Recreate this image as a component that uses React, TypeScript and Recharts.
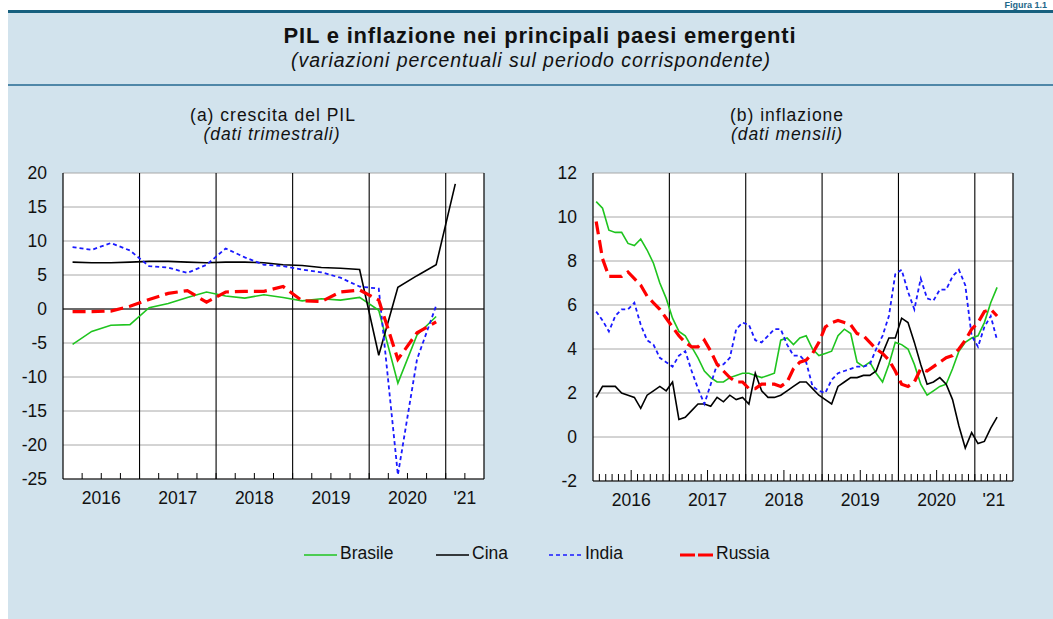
import React from 'react'
import { LineChart, Line, XAxis, YAxis, CartesianGrid, ReferenceLine } from 'recharts'

// ---- categories ----
const quarters = [
  '2016 T1', '2016 T2', '2016 T3', '2016 T4',
  '2017 T1', '2017 T2', '2017 T3', '2017 T4',
  '2018 T1', '2018 T2', '2018 T3', '2018 T4',
  '2019 T1', '2019 T2', '2019 T3', '2019 T4',
  '2020 T1', '2020 T2', '2020 T3', '2020 T4',
  '2021 T1', '2021 T2',
]
const years = ['2016', '2017', '2018', '2019', '2020', '2021']
const yearLabels = ['2016', '2017', '2018', '2019', '2020', "'21"]
const monthNames = ['gen', 'feb', 'mar', 'apr', 'mag', 'giu', 'lug', 'ago', 'set', 'ott', 'nov', 'dic']
const months = years.flatMap((y) => monthNames.map((m) => `${m} ${y}`)).slice(0, 66)

// ---- (a) PIL, dati trimestrali ----
const gdpBrasile = [-5.2, -3.3, -2.4, -2.3, 0.2, 0.8, 1.7, 2.5, 1.9, 1.6, 2.1, 1.7, 1.2, 1.5, 1.3, 1.7, -0.2, -10.9, -3.8, -1.1]
const gdpCina = [6.9, 6.8, 6.8, 6.9, 7.0, 7.0, 6.9, 6.8, 6.9, 6.9, 6.8, 6.5, 6.4, 6.1, 6.0, 5.8, -6.8, 3.2, 4.9, 6.5, 18.4]
const gdpIndia = [9.1, 8.7, 9.7, 8.6, 6.3, 6.1, 5.3, 6.5, 8.9, 7.6, 6.5, 6.3, 5.8, 5.4, 4.6, 3.3, 3.0, -24.4, -7.4, 0.5]
const gdpRussia = [-0.4, -0.4, -0.3, 0.4, 1.4, 2.3, 2.7, 1.0, 2.5, 2.6, 2.6, 3.3, 1.2, 1.1, 2.5, 2.8, 1.3, -7.4, -3.5, -1.9]

// ---- (b) inflazione, dati mensili ----
const cpiBrasile = [
  10.7, 10.4, 9.4, 9.3, 9.3, 8.8, 8.7, 9.0, 8.5, 7.9, 7.0, 6.3,
  5.4, 4.8, 4.6, 4.1, 3.6, 3.0, 2.7, 2.5, 2.5, 2.7, 2.8, 2.9,
  2.9, 2.8, 2.7, 2.8, 2.9, 4.4, 4.5, 4.2, 4.5, 4.6, 4.0, 3.7,
  3.8, 3.9, 4.6, 4.9, 4.7, 3.4, 3.2, 3.4, 2.9, 2.5, 3.3, 4.3,
  4.2, 4.0, 3.3, 2.4, 1.9, 2.1, 2.3, 2.4, 3.1, 3.9, 4.3, 4.5,
  4.6, 5.2, 6.1, 6.8,
]
const cpiCina = [
  1.8, 2.3, 2.3, 2.3, 2.0, 1.9, 1.8, 1.3, 1.9, 2.1, 2.3, 2.1,
  2.5, 0.8, 0.9, 1.2, 1.5, 1.5, 1.4, 1.8, 1.6, 1.9, 1.7, 1.8,
  1.5, 2.9, 2.1, 1.8, 1.8, 1.9, 2.1, 2.3, 2.5, 2.5, 2.2, 1.9,
  1.7, 1.5, 2.3, 2.5, 2.7, 2.7, 2.8, 2.8, 3.0, 3.8, 4.5, 4.5,
  5.4, 5.2, 4.3, 3.3, 2.4, 2.5, 2.7, 2.4, 1.7, 0.5, -0.5, 0.2,
  -0.3, -0.2, 0.4, 0.9,
]
const cpiIndia = [
  5.7, 5.3, 4.8, 5.5, 5.8, 5.8, 6.1, 5.1, 4.4, 4.2, 3.6, 3.4,
  3.2, 3.7, 3.9, 3.0, 2.2, 1.5, 2.4, 3.3, 3.3, 3.6, 4.9, 5.2,
  5.1, 4.4, 4.3, 4.6, 4.9, 4.9, 4.2, 3.7, 3.7, 3.4, 2.3, 2.1,
  2.0, 2.6, 2.9, 3.0, 3.1, 3.2, 3.2, 3.3, 4.0, 4.6, 5.5, 7.4,
  7.6, 6.6, 5.8, 7.2, 6.3, 6.2, 6.7, 6.7, 7.3, 7.6, 6.9, 4.6,
  4.1, 5.0, 5.5, 4.4,
]
const cpiRussia = [
  9.8, 8.1, 7.3, 7.3, 7.3, 7.5, 7.2, 6.9, 6.4, 6.1, 5.8, 5.4,
  5.0, 4.6, 4.3, 4.1, 4.1, 4.4, 3.9, 3.3, 3.0, 2.7, 2.5, 2.5,
  2.2, 2.2, 2.4, 2.4, 2.4, 2.3, 2.5, 3.1, 3.4, 3.5, 3.8, 4.3,
  5.0, 5.2, 5.3, 5.2, 5.1, 4.7, 4.6, 4.3, 4.0, 3.8, 3.5, 3.0,
  2.4, 2.3, 2.5, 3.1, 3.0, 3.2, 3.4, 3.6, 3.7, 4.0, 4.4, 4.9,
  5.2, 5.7, 5.8, 5.5,
]

const gdpTicks = [-25, -20, -15, -10, -5, 0, 5, 10, 15, 20]
const cpiTicks = [-2, 0, 2, 4, 6, 8, 10, 12]

const FONT = "'Liberation Sans', Arial, Helvetica, sans-serif"
const TEXT = '#111'
const C_BRASILE = '#1fc41f'
const C_CINA = '#000000'
const C_INDIA = '#1a1aff'
const C_RUSSIA = '#ff0000'

const series = [
  { key: 'brasile', name: 'Brasile', color: C_BRASILE, width: 1.6, dash: undefined as string | undefined },
  { key: 'cina', name: 'Cina', color: C_CINA, width: 1.6, dash: undefined as string | undefined },
  { key: 'india', name: 'India', color: C_INDIA, width: 1.8, dash: '4 3' },
  { key: 'russia', name: 'Russia', color: C_RUSSIA, width: 3.2, dash: '13 6' },
]

const yearOf = (label: string) => (label.match(/\d{4}/) || [''])[0]

function buildRows(cats: string[], cols: Record<string, number[]>) {
  return cats.map((c, i) => {
    const row: Record<string, any> = { cat: c, x: i + 0.5 }
    Object.keys(cols).forEach((k) => {
      row[k] = cols[k][i] ?? null
    })
    return row
  })
}

// year boundaries, year centres and label map from the category list
function axisInfo(cats: string[]) {
  const bounds: number[] = []
  const labels = new Map<number, string>()
  years.forEach((y, yi) => {
    const idx = cats.map((c, i) => (yearOf(c) === y ? i : -1)).filter((i) => i >= 0)
    if (!idx.length) return
    labels.set((idx[0] + idx[idx.length - 1] + 1) / 2, yearLabels[yi])
    if (idx[0] > 0) bounds.push(idx[0])
  })
  const ticks = cats.map((_, i) => i).concat(cats.length)
  return { bounds, labels, ticks }
}

function makeXTick(labels: Map<number, string>, max: number, len: (v: number) => number) {
  return (props: any) => {
    const { x, y, payload } = props
    const v = payload.value
    return (
      <g>
        {v > 0 && v < max && <line x1={x} y1={y} x2={x} y2={y - len(v)} stroke="#000" strokeWidth={1} />}
        {labels.has(v) && (
          <text x={x} y={y + 19} dy="0.36em" textAnchor="middle" fontSize={17.5} fill={TEXT}>
            {labels.get(v)}
          </text>
        )}
      </g>
    )
  }
}

const yTick = (props: any) => (
  <text x={props.x} y={props.y} dy="0.36em" textAnchor="end" fontSize={17.5} fill={TEXT}>
    {props.payload.value}
  </text>
)

interface PanelProps {
  rows: any[]
  cats: string[]
  domain: [number, number]
  ticks: number[]
  width: number
  height: number
  margin: { top: number; right: number; bottom: number; left: number }
  leftW: number
  rightW: number
  rightMargin: number
  tickLen: (v: number) => number
  zeroBlack?: boolean
}

function Panel({ rows, cats, domain, ticks, width, height, margin, leftW, rightW, rightMargin, tickLen, zeroBlack }: PanelProps) {
  const { bounds, labels, ticks: xTicks } = axisInfo(cats)
  const max = cats.length
  return (
    <LineChart width={width} height={height} data={rows} margin={margin}>
      <CartesianGrid vertical={false} stroke="#a8a8a8" strokeWidth={1} fill="#ffffff" />
      <XAxis
        dataKey="x"
        type="number"
        domain={[0, max]}
        ticks={xTicks}
        interval={0}
        tickLine={false}
        tickSize={0}
        tickMargin={0}
        height={30}
        axisLine={{ stroke: '#000', strokeWidth: 1.2 }}
        tick={makeXTick(labels, max, tickLen)}
      />
      <XAxis
        xAxisId="top"
        orientation="top"
        type="number"
        domain={[0, max]}
        height={0}
        tick={false}
        tickLine={false}
        axisLine={{ stroke: '#000', strokeWidth: 1.2 }}
      />
      <YAxis
        type="number"
        domain={domain}
        ticks={ticks}
        interval={0}
        width={leftW}
        tickLine={false}
        tickSize={0}
        tickMargin={16}
        axisLine={{ stroke: '#000', strokeWidth: 1.2 }}
        tick={yTick}
      />
      <YAxis
        yAxisId="r"
        orientation="right"
        type="number"
        domain={domain}
        ticks={ticks}
        interval={0}
        width={rightW}
        tickLine={false}
        tickSize={0}
        tickMargin={rightMargin}
        axisLine={{ stroke: '#000', strokeWidth: 1.2 }}
        tick={yTick}
      />
      {zeroBlack && <ReferenceLine y={0} stroke="#000" strokeWidth={1.2} />}
      {bounds.map((b) => (
        <ReferenceLine key={b} x={b} stroke="#000" strokeWidth={1.1} />
      ))}
      {series.map((s) => (
        <Line
          key={s.key}
          type="linear"
          dataKey={s.key}
          stroke={s.color}
          strokeWidth={s.width}
          strokeDasharray={s.dash}
          dot={false}
          activeDot={false}
          isAnimationActive={false}
        />
      ))}
    </LineChart>
  )
}

function LegendItem({ s, left }: { s: (typeof series)[number]; left: number }) {
  return (
    <div style={{ position: 'absolute', left, top: 545, display: 'flex', alignItems: 'center', whiteSpace: 'nowrap' }}>
      <svg width={33} height={8} style={{ display: 'block', marginRight: 3, marginTop: 3 }}>
        <line x1={0} y1={4} x2={33} y2={4} stroke={s.color} strokeWidth={s.key === 'russia' ? 3 : 1.6} strokeDasharray={s.key === 'russia' ? '15 3' : s.dash} />
      </svg>
      <span style={{ fontSize: 17.5, lineHeight: '17.5px', color: TEXT }}>{s.name}</span>
    </div>
  )
}

export default function App() {
  const gdpRows = buildRows(quarters, { brasile: gdpBrasile, cina: gdpCina, india: gdpIndia, russia: gdpRussia })
  const cpiRows = buildRows(months, { brasile: cpiBrasile, cina: cpiCina, india: cpiIndia, russia: cpiRussia })
  const center = (x: number): React.CSSProperties => ({
    position: 'absolute',
    left: x,
    transform: 'translateX(-50%)',
    whiteSpace: 'nowrap',
    color: TEXT,
  })
  return (
    <div style={{ position: 'absolute', left: 0, top: 0, width: 1053, height: 619, overflow: 'hidden', background: '#fff', fontFamily: FONT }}>
      <div style={{ position: 'absolute', right: 6, top: 1, fontSize: 9, lineHeight: '9px', fontWeight: 'bold', color: '#1d6689', whiteSpace: 'nowrap' }}>
        Figura 1.1
      </div>
      <div style={{ position: 'absolute', left: 8, top: 10, right: 0, bottom: 0, background: '#d2e3ed' }} />
      <div style={{ position: 'absolute', left: 8, top: 10, right: 0, height: 3, background: '#17607f' }} />
      <div style={{ position: 'absolute', left: 8, top: 84, right: 0, height: 2, background: '#4f87a8' }} />

      <div style={{ ...center(540), top: 24.5, fontSize: 22, lineHeight: '22px', fontWeight: 'bold', letterSpacing: 0.8 }}>
        PIL e inflazione nei principali paesi emergenti
      </div>
      <div style={{ ...center(531), top: 50.5, fontSize: 19.5, lineHeight: '19.5px', fontStyle: 'italic', letterSpacing: 0.95 }}>
        (variazioni percentuali sul periodo corrispondente)
      </div>

      <div style={{ ...center(273), top: 107, fontSize: 17.5, lineHeight: '17.5px', letterSpacing: 1 }}>(a) crescita del PIL</div>
      <div style={{ ...center(272), top: 125.5, fontSize: 17.5, lineHeight: '17.5px', fontStyle: 'italic', letterSpacing: 0.9 }}>
        (dati trimestrali)
      </div>
      <div style={{ ...center(787), top: 107, fontSize: 17.5, lineHeight: '17.5px', letterSpacing: 1 }}>(b) inflazione</div>
      <div style={{ ...center(787), top: 125.5, fontSize: 17.5, lineHeight: '17.5px', fontStyle: 'italic', letterSpacing: 0.9 }}>
        (dati mensili)
      </div>

      <div style={{ position: 'absolute', left: 13, top: 160 }}>
        <Panel
          rows={gdpRows}
          cats={quarters}
          domain={[-25, 20]}
          ticks={gdpTicks}
          width={520}
          height={360}
          margin={{ top: 13, right: 0, bottom: 11, left: 0 }}
          leftW={50}
          rightW={49}
          rightMargin={41}
          tickLen={() => 6}
          zeroBlack
        />
      </div>
      <div style={{ position: 'absolute', left: 540, top: 160 }}>
        <Panel
          rows={cpiRows}
          cats={months}
          domain={[-2, 12]}
          ticks={cpiTicks}
          width={513}
          height={360}
          margin={{ top: 13, right: 0, bottom: 9, left: 0 }}
          leftW={53}
          rightW={40}
          rightMargin={35}
          tickLen={(v) => (v % 12 === 6 ? 11 : 7)}
        />
      </div>

      <LegendItem s={series[0]} left={304} />
      <LegendItem s={series[1]} left={436} />
      <LegendItem s={series[2]} left={549} />
      <LegendItem s={series[3]} left={680} />
    </div>
  )
}
